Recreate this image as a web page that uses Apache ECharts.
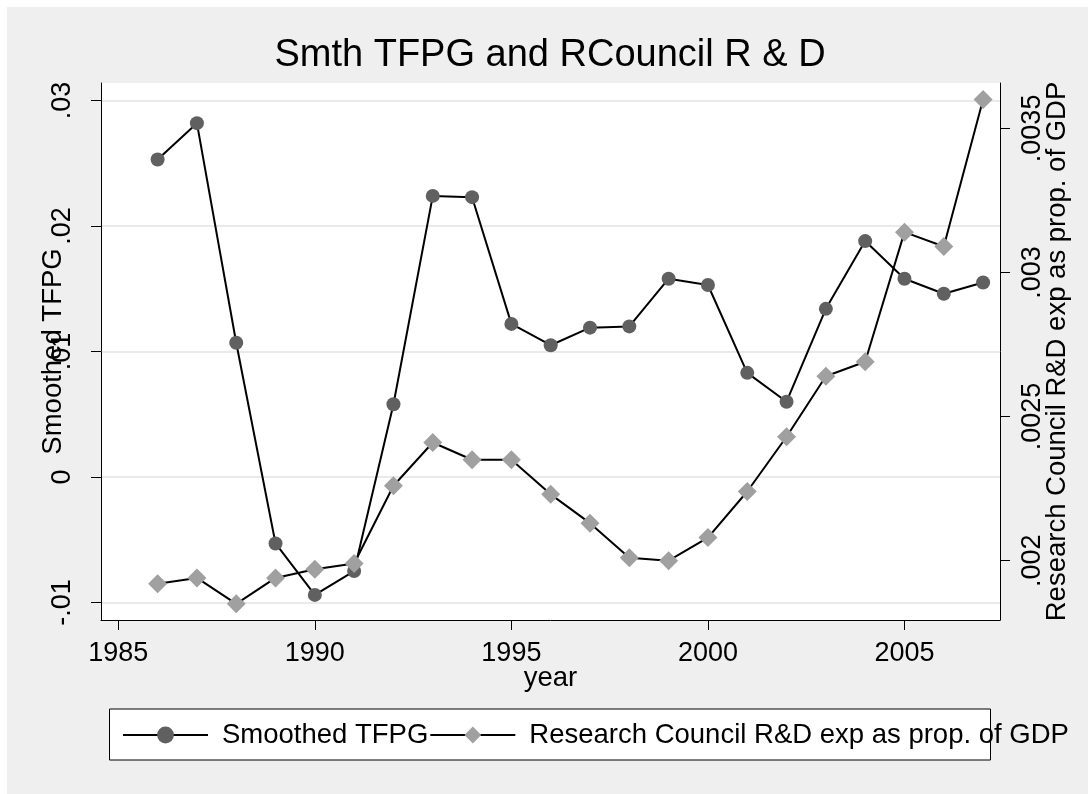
<!DOCTYPE html>
<html>
<head>
<meta charset="utf-8">
<title>Smth TFPG and RCouncil R & D</title>
<script src="https://cdn.jsdelivr.net/npm/echarts@6/dist/echarts.min.js"></script>
<style>
  html, body { margin: 0; height: 100%; background: #fff; overflow: hidden; }
  #main { position: absolute; left: 7px; top: 7px; width: 1086px; height: 792px; }
</style>
</head>
<body>
<div id="main"></div>
<script>
  // data
  var years = [1986, 1987, 1988, 1989, 1990, 1991, 1992, 1993, 1994, 1995, 1996,
               1997, 1998, 1999, 2000, 2001, 2002, 2003, 2004, 2005, 2006, 2007];
  var tfpg = [0.0253, 0.0282, 0.0107, -0.0053, -0.0094, -0.0075, 0.0058, 0.0224, 0.0223, 0.0122, 0.0105,
              0.0119, 0.0120, 0.0158, 0.0153, 0.0083, 0.0060, 0.0134, 0.0188, 0.0158, 0.0146, 0.0155];
  var rdExp = [0.00192, 0.00194, 0.00185, 0.00194, 0.00197, 0.00199, 0.00226, 0.00241, 0.00235, 0.00235, 0.00223,
               0.00213, 0.00201, 0.00200, 0.00208, 0.00224, 0.00243, 0.00264, 0.00269, 0.00314, 0.00309, 0.00360];

  var xTicks = [1985, 1990, 1995, 2000, 2005];
  var leftTicks = [-0.01, 0, 0.01, 0.02, 0.03];
  var leftTickLabels = ['-.01', '0', '.01', '.02', '.03'];
  var rightTicks = [0.002, 0.0025, 0.003, 0.0035];
  var rightTickLabels = ['.002', '.0025', '.003', '.0035'];

  var font = "'Liberation Sans', Arial, Helvetica, sans-serif";

  function pairs(xs, ys) {
    var out = [];
    for (var i = 0; i < xs.length; i++) out.push([xs[i], ys[i]]);
    return out;
  }
  function labelFor(ticks, labels) {
    return function (v) {
      for (var i = 0; i < ticks.length; i++) {
        if (Math.abs(ticks[i] - v) < 1e-9) return labels[i];
      }
      return '';
    };
  }

  var myChart = echarts.init(document.getElementById('main'));
  var option = {
    animation: false,
    backgroundColor: '#efefef',
    textStyle: { fontFamily: font, color: '#000' },
    title: {
      text: 'Smth TFPG and RCouncil R & D',
      left: 543,
      top: 30,
      textAlign: 'center',
      padding: 0,
      textStyle: { fontFamily: font, fontSize: 38, fontWeight: 'normal', color: '#000' }
    },
    grid: {
      left: 94,
      top: 76,
      width: 899,
      height: 537,
      show: true,
      backgroundColor: '#fff',
      borderWidth: 0,
      containLabel: false
    },
    graphic: [{
      type: 'rect',
      z: 0,
      shape: { x: 102.5, y: 702, width: 881, height: 51 },
      style: { fill: '#fff', stroke: '#000', lineWidth: 1 }
    }],
    legend: {
      left: 115,
      top: 714,
      padding: 0,
      itemGap: 1,
      itemWidth: 85,
      itemHeight: 21,
      z: 5,
      textStyle: { fontFamily: font, fontSize: 27.5, color: '#000', padding: [0, 0, 0, 9] },
      data: ['Smoothed TFPG', 'Research Council R&D exp as prop. of GDP']
    },
    xAxis: {
      type: 'value',
      min: 1984.56,
      max: 2007.43,
      name: 'year',
      nameLocation: 'middle',
      nameGap: 44,
      nameMoveOverlap: false,
      nameTextStyle: { fontFamily: font, fontSize: 27.5, color: '#000' },
      axisLine: { show: true, onZero: false, lineStyle: { color: '#000', width: 1 } },
      axisTick: { show: true, length: 10, customValues: xTicks, lineStyle: { color: '#000' } },
      axisLabel: {
        customValues: xTicks,
        margin: 20,
        fontFamily: font, fontSize: 27, color: '#000',
        formatter: function (v) { return String(v); }
      },
      splitLine: { show: false }
    },
    yAxis: [{
      type: 'value',
      position: 'left',
      min: -0.0114,
      max: 0.0314,
      name: 'Smoothed TFPG',
      nameLocation: 'middle',
      nameRotate: 90,
      nameGap: 34,
      nameMoveOverlap: false,
      nameTextStyle: { fontFamily: font, fontSize: 27.5, color: '#000' },
      axisLine: { show: true, onZero: false, lineStyle: { color: '#000', width: 1 } },
      axisTick: { show: true, length: 10, customValues: leftTicks, lineStyle: { color: '#000' } },
      axisLabel: {
        customValues: leftTicks,
        rotate: 90,
        margin: 25,
        fontFamily: font, fontSize: 27, color: '#000',
        formatter: labelFor(leftTicks, leftTickLabels)
      },
      splitLine: { show: true, lineStyle: { color: '#eaeaea', width: 2 } }
    }, {
      type: 'value',
      position: 'right',
      min: 0.001794,
      max: 0.0036575,
      name: 'Research Council R&D exp as prop. of GDP',
      nameLocation: 'middle',
      nameRotate: 90,
      nameGap: 43,
      nameMoveOverlap: false,
      nameTextStyle: { fontFamily: font, fontSize: 27.5, color: '#000' },
      axisLine: { show: true, onZero: false, lineStyle: { color: '#000', width: 1 } },
      axisTick: { show: true, length: 10, customValues: rightTicks, lineStyle: { color: '#000' } },
      axisLabel: {
        customValues: rightTicks,
        rotate: 90,
        margin: 19,
        fontFamily: font, fontSize: 27, color: '#000',
        formatter: labelFor(rightTicks, rightTickLabels)
      },
      splitLine: { show: false }
    }],
    series: [{
      name: 'Smoothed TFPG',
      type: 'line',
      yAxisIndex: 0,
      data: pairs(years, tfpg),
      symbol: 'circle',
      symbolSize: 14,
      itemStyle: { color: '#606060' },
      lineStyle: { color: '#000', width: 2 }
    }, {
      name: 'Research Council R&D exp as prop. of GDP',
      type: 'line',
      yAxisIndex: 1,
      data: pairs(years, rdExp),
      symbol: 'diamond',
      symbolSize: 19,
      itemStyle: { color: '#a0a0a0' },
      lineStyle: { color: '#000', width: 2 }
    }]
  };
  myChart.setOption(option);
</script>
</body>
</html>
